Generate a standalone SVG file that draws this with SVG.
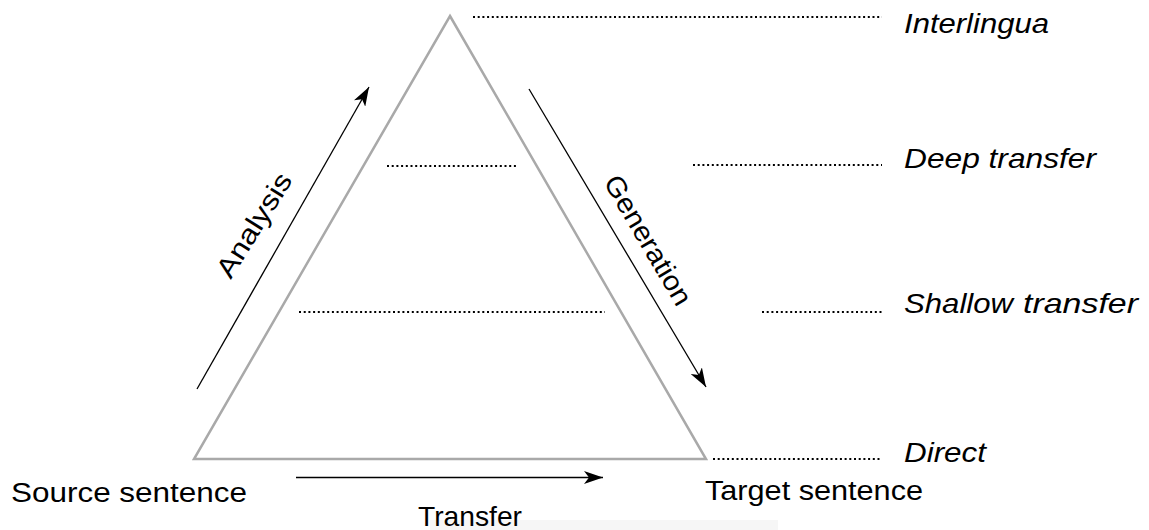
<svg xmlns="http://www.w3.org/2000/svg" width="1149" height="530" viewBox="0 0 1149 530">
<style>
.tri{fill:none;stroke:#a9a9a9;stroke-width:2.5;stroke-linejoin:miter}
.dot{stroke:#000;stroke-width:2;stroke-dasharray:2 2.7;fill:none}
.arr{stroke:#000;stroke-width:1.3;fill:none;marker-end:url(#ah)}
.t{font-family:"Liberation Sans",Arial,Helvetica,sans-serif;font-size:27.5px;fill:#000}
.i{font-style:italic}
</style>
<defs>
<marker id="ah" markerUnits="userSpaceOnUse" markerWidth="19" markerHeight="13" refX="19" refY="6.5" orient="auto" viewBox="0 0 19 13">
<path d="M19,6.5 L0,0 L5,6.5 L0,13 Z" fill="#000"/>
</marker>
</defs>
<rect x="0" y="0" width="1149" height="530" fill="#fff"/>
<rect x="430" y="520" width="348" height="10" fill="#f6f6f6"/>
<g id="pyramid">
<polygon class="tri" points="450,16 706,459 194,459"/>
</g>
<g id="levels">
<line class="dot" x1="473" y1="17" x2="882" y2="17"/>
<line class="dot" x1="387" y1="166" x2="517" y2="166"/>
<line class="dot" x1="693" y1="165" x2="882" y2="165"/>
<line class="dot" x1="299" y1="312" x2="605" y2="312"/>
<line class="dot" x1="762" y1="312" x2="882" y2="312"/>
<line class="dot" x1="713" y1="459" x2="882" y2="459"/>
</g>
<g id="connectors">
<line class="arr" x1="197" y1="389" x2="369" y2="87"/>
<line class="arr" x1="529" y1="89" x2="706" y2="387"/>
<line class="arr" x1="296" y1="477.5" x2="603" y2="477.5"/>
</g>
<g id="level-labels">
<text class="t i" x="904" y="33" textLength="145" lengthAdjust="spacingAndGlyphs">Interlingua</text>
<text class="t i" x="904" y="168" textLength="192" lengthAdjust="spacingAndGlyphs">Deep transfer</text>
<text class="t i" y="313"><tspan x="904" textLength="109" lengthAdjust="spacingAndGlyphs">Shallow</tspan><tspan x="1023" textLength="115" lengthAdjust="spacingAndGlyphs">transfer</tspan></text>
<text class="t i" x="904" y="462" textLength="82" lengthAdjust="spacingAndGlyphs">Direct</text>
</g>
<g id="source">
<text class="t" x="11" y="502" textLength="236" lengthAdjust="spacingAndGlyphs">Source sentence</text>
</g>
<g id="target">
<text class="t" x="705" y="500" textLength="218" lengthAdjust="spacingAndGlyphs">Target sentence</text>
</g>
<g id="transfer-label">
<text class="t" x="418" y="526" textLength="104" lengthAdjust="spacingAndGlyphs">Transfer</text>
</g>
<g id="analysis-label">
<text class="t" transform="translate(262,230) rotate(-58)" x="-59" y="0" textLength="118" lengthAdjust="spacingAndGlyphs">Analysis</text>
</g>
<g id="generation-label">
<text class="t" transform="translate(640,245) rotate(59.5)" x="-73" y="0" textLength="146" lengthAdjust="spacingAndGlyphs">Generation</text>
</g>
</svg>
